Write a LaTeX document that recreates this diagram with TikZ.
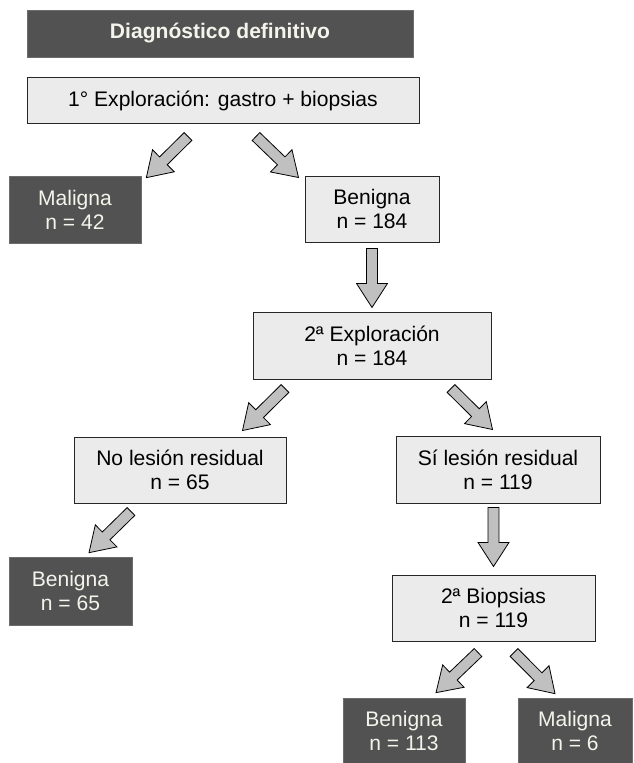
\documentclass[tikz,border=0pt]{standalone}
\usepackage{fontspec}
\setmainfont{Liberation Sans}
\usetikzlibrary{calc}

\definecolor{boxdark}{RGB}{82,82,82}
\definecolor{boxlight}{RGB}{235,235,235}
\definecolor{arrowgray}{RGB}{192,192,192}
\definecolor{textlight}{RGB}{244,244,236}

% fat grey arrow from tail #1 to tip #2
\newcommand{\fatarrow}[2]{%
  \coordinate (hb) at ($(#2)!18pt!(#1)$);
  \filldraw[blockarrow] ($(#1)!4.1pt!90:(#2)$) -- ($(hb)!4.1pt!90:(#2)$)
    -- ($(hb)!11.6pt!90:(#2)$) -- (#2) -- ($(hb)!11.6pt!-90:(#2)$)
    -- ($(hb)!4.1pt!-90:(#2)$) -- ($(#1)!4.1pt!-90:(#2)$) -- cycle;}

\begin{document}
\begin{tikzpicture}[x=0.75pt,y=-0.75pt]
        % Common styles
        \tikzstyle{darkbox}=[rectangle, fill=boxdark, draw=boxdark!85!white, line width=0.5pt, text=textlight, align=center, inner sep=0pt, font=\fontsize{15.8}{18}\selectfont]
        \tikzstyle{lightbox}=[rectangle, fill=boxlight, draw=black!85, line width=0.75pt, align=center, inner sep=0pt, font=\fontsize{15.8}{18}\selectfont]
        \tikzstyle{blockarrow}=[fill=arrowgray, draw=black, line width=0.6pt, line join=miter]

        \useasboundingbox (0,0) rectangle (634,763);

        % --- Title and first exploration ---
        \node[darkbox, minimum width=289.5pt, minimum height=35.25pt, font=\fontsize{15.8}{18}\selectfont\bfseries] (titulo) at (220,33.5) {Diagnóstico definitivo};
        \node[lightbox, minimum width=294pt, minimum height=34.5pt] (expl1) at (223,101) {1° Exploración: gastro + biopsias};

        \node[darkbox, minimum width=99pt, minimum height=50.25pt] (mal1) at (75,209.5) {Maligna\\n = 42};
        \node[lightbox, minimum width=100.5pt, minimum height=49.5pt] (ben1) at (372,209) {Benigna\\n = 184};

        % --- Second exploration ---
        \node[lightbox, minimum width=178.5pt, minimum height=50.25pt] (expl2) at (372,345.5) {2ª Exploración\\n = 184};
        \node[lightbox, minimum width=159pt, minimum height=49.5pt] (nores) at (180,470) {No lesión residual\\n = 65};
        \node[lightbox, minimum width=153pt, minimum height=50.25pt] (sires) at (498,469.5) {Sí lesión residual\\n = 119};
        \node[darkbox, minimum width=92.25pt, minimum height=51pt] (ben2) at (70.5,591) {Benigna\\n = 65};

        % --- Second biopsies ---
        \node[lightbox, minimum width=152.25pt, minimum height=49.5pt] (biop2) at (493.5,608) {2ª Biopsias\\n = 119};
        \node[darkbox, minimum width=91.5pt, minimum height=48.75pt] (ben3) at (404,730.5) {Benigna\\n = 113};
        \node[darkbox, minimum width=85.5pt, minimum height=48.75pt] (mal2) at (575,730.5) {Maligna\\n = 6};

        % Arrow ends
        \coordinate (t1) at ($(expl1.south)+(-35,12)$);  \coordinate (h1) at ($(mal1.north east)+(5,2)$);
        \coordinate (t2) at ($(expl1.south)+(33,12)$);   \coordinate (h2) at ($(ben1.north west)+(-6,2)$);
        \coordinate (t3) at ($(ben1.south)+(0,6)$);      \coordinate (h3) at ($(expl2.north)+(0,-4)$);
        \coordinate (t4) at ($(expl2.south)+(-87,9)$);   \coordinate (h4) at ($(nores.north east)+(-44,-6)$);
        \coordinate (t5) at ($(expl2.south)+(79,9)$);    \coordinate (h5) at ($(sires.north west)+(97,-6)$);
        \coordinate (t6) at ($(nores.south)+(-49,8)$);   \coordinate (h6) at ($(ben2.north)+(18.5,-4)$);
        \coordinate (t7) at ($(sires.south)+(-4.5,4)$);  \coordinate (h7) at ($(biop2.north)+(0,-8)$);
        \coordinate (t8) at ($(biop2.south)+(-15.5,11)$); \coordinate (h8) at ($(ben3.north)+(32,-5)$);
        \coordinate (t9) at ($(biop2.south)+(20.5,11)$); \coordinate (h9) at ($(mal2.north)+(-20,-4)$);

        % Arrows
        \foreach \i in {1,...,9} {\fatarrow{t\i}{h\i}}

\end{tikzpicture}
\end{document}
